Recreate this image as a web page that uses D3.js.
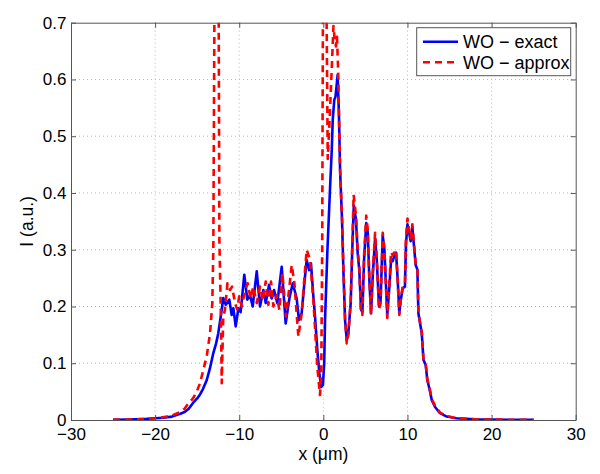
<!DOCTYPE html>
<html>
<head>
<meta charset="utf-8">
<script src="https://cdn.jsdelivr.net/npm/d3@7/dist/d3.min.js"></script>
<style>
  html, body { margin: 0; padding: 0; background: #fff; }
  svg { display: block; }
  text { font-family: "Liberation Sans", Arial, Helvetica, sans-serif; }
</style>
</head>
<body>
<svg id="chart" width="600" height="474"></svg>
<script>
// ---------- data ----------
const xTicks = [-30, -20, -10, 0, 10, 20, 30];
const yTicks = [0, 0.1, 0.2, 0.3, 0.4, 0.5, 0.6, 0.7];
const seriesNames = ["WO \u2212 exact", "WO \u2212 approx"];

const xExact = [-25, -23, -21, -20, -19, -18, -17, -16.5, -16, -15.5, -15, -14.66, -14.3, -13.87, -13.5, -13.08, -12.75, -12.49, -12.2, -11.9, -11.6, -11.18, -10.9, -10.7, -10.42, -10.1, -9.83, -9.4, -9.04, -8.72, -8.4, -7.92, -7.53, -7.13, -6.85, -6.46, -6.14, -5.86, -5.47, -4.95, -4.48, -4.04, -3.64, -3.17, -2.9, -2.58, -2.2, -1.98, -1.7, -1.47, -1.2, -0.99, -0.7, -0.47, -0.25, -0.05, 0.1, 0.2, 0.47, 0.8, 1.0, 1.12, 1.3, 1.45, 1.7, 1.85, 1.99, 2.22, 2.38, 2.58, 2.78, 2.97, 3.25, 3.45, 3.62, 3.88, 4.08, 4.27, 4.48, 4.64, 4.84, 5.1, 5.28, 5.47, 5.67, 5.87, 6.15, 6.35, 6.62, 6.8, 7.06, 7.26, 7.6, 7.85, 8.05, 8.25, 8.44, 8.64, 8.84, 9.03, 9.19, 9.43, 9.7, 9.82, 10.0, 10.2, 10.38, 10.58, 10.78, 10.98, 11.18, 11.3, 11.5, 11.7, 11.9, 12.17, 12.36, 12.6, 12.89, 13.28, 13.87, 14.67, 15.8, 17, 18.5, 20, 22, 25];
const yExact = [0.0005, 0.001, 0.002, 0.003, 0.004, 0.006, 0.011, 0.014, 0.02, 0.03, 0.038, 0.045, 0.055, 0.07, 0.09, 0.118, 0.135, 0.153, 0.182, 0.215, 0.203, 0.212, 0.185, 0.197, 0.165, 0.197, 0.19, 0.256, 0.212, 0.22, 0.2, 0.262, 0.2, 0.229, 0.206, 0.238, 0.214, 0.229, 0.206, 0.27, 0.17, 0.214, 0.241, 0.214, 0.176, 0.188, 0.25, 0.282, 0.264, 0.276, 0.22, 0.182, 0.12, 0.082, 0.058, 0.062, 0.1, 0.176, 0.294, 0.41, 0.476, 0.53, 0.564, 0.57, 0.608, 0.54, 0.44, 0.353, 0.265, 0.176, 0.141, 0.153, 0.206, 0.306, 0.378, 0.353, 0.294, 0.265, 0.195, 0.19, 0.282, 0.347, 0.33, 0.247, 0.188, 0.253, 0.32, 0.282, 0.2, 0.21, 0.325, 0.3, 0.185, 0.235, 0.282, 0.28, 0.29, 0.295, 0.247, 0.188, 0.21, 0.232, 0.235, 0.31, 0.345, 0.33, 0.315, 0.34, 0.306, 0.273, 0.265, 0.188, 0.17, 0.153, 0.106, 0.097, 0.07, 0.056, 0.035, 0.023, 0.012, 0.006, 0.003, 0.002, 0.001, 0.0008, 0.0005, 0.0003];

const xApprox = [-25, -23, -21, -20, -19, -18, -17, -16.5, -16, -15.5, -15.05, -14.66, -14.27, -13.87, -13.47, -13.2, -13.08, -12.95, -12.7, -12.45, -12.36, -12.2, -12.08, -11.9, -11.7, -11.4, -11.1, -10.85, -10.5, -10.25, -10.0, -9.7, -9.35, -9.0, -8.65, -8.33, -7.92, -7.53, -7.2, -6.85, -6.54, -6.22, -5.94, -5.55, -5.23, -4.87, -4.44, -4.16, -3.76, -3.44, -2.97, -2.58, -2.2, -1.98, -1.58, -1.19, -0.72, -0.4, -0.25, -0.14, -0.05, 0.1, 0.3, 0.42, 0.52, 0.75, 1.0, 1.2, 1.35, 1.5, 1.62, 1.75, 1.88, 1.99, 2.22, 2.38, 2.58, 2.78, 2.97, 3.25, 3.45, 3.6, 3.88, 4.08, 4.27, 4.48, 4.64, 4.84, 5.1, 5.28, 5.47, 5.67, 5.87, 6.15, 6.35, 6.62, 6.8, 7.06, 7.26, 7.6, 7.85, 8.05, 8.25, 8.44, 8.64, 8.84, 9.03, 9.19, 9.43, 9.7, 9.82, 10.0, 10.2, 10.38, 10.58, 10.78, 10.98, 11.18, 11.3, 11.5, 11.7, 11.9, 12.17, 12.36, 12.6, 12.89, 13.28, 13.87, 14.67, 15.8, 17, 18.5, 20, 22, 25];
const yApprox = [0.0005, 0.001, 0.002, 0.003, 0.005, 0.008, 0.014, 0.02, 0.03, 0.038, 0.05, 0.065, 0.088, 0.112, 0.153, 0.206, 0.3, 0.72, 1.0, 0.75, 0.317, 0.2, 0.065, 0.182, 0.194, 0.241, 0.229, 0.235, 0.206, 0.195, 0.218, 0.2, 0.225, 0.241, 0.214, 0.235, 0.206, 0.235, 0.21, 0.244, 0.203, 0.244, 0.2, 0.22, 0.194, 0.259, 0.182, 0.218, 0.273, 0.241, 0.147, 0.188, 0.26, 0.3, 0.282, 0.212, 0.094, 0.044, 0.08, 0.3, 0.72, 0.9, 0.85, 0.65, 0.46, 0.53, 0.62, 0.694, 0.67, 0.658, 0.675, 0.62, 0.52, 0.44, 0.355, 0.27, 0.18, 0.135, 0.15, 0.21, 0.315, 0.397, 0.36, 0.3, 0.27, 0.19, 0.185, 0.29, 0.36, 0.335, 0.25, 0.185, 0.26, 0.33, 0.285, 0.195, 0.205, 0.33, 0.3, 0.18, 0.24, 0.296, 0.29, 0.295, 0.3, 0.245, 0.185, 0.21, 0.235, 0.24, 0.32, 0.355, 0.335, 0.32, 0.345, 0.31, 0.275, 0.265, 0.19, 0.172, 0.155, 0.108, 0.098, 0.072, 0.058, 0.037, 0.025, 0.013, 0.007, 0.003, 0.002, 0.001, 0.0008, 0.0005, 0.0003];

// ---------- layout ----------
const M = { left: 71, right: 575.7, top: 22.7, bottom: 420 };
const svg = d3.select("#chart");

const x = d3.scaleLinear().domain([-30, 30]).range([M.left, M.right]);
const y = d3.scaleLinear().domain([0, 0.7]).range([M.bottom, M.top]);

const axisColor = "#555";
const tickFont = 17;
const labelFont = 17.5;
const legendFont = 18;

// grid
const grid = svg.append("g");
grid.selectAll("line.gx").data(xTicks.slice(1, -1)).join("line")
  .attr("x1", d => x(d)).attr("x2", d => x(d))
  .attr("y1", M.top).attr("y2", M.bottom)
  .attr("stroke", "#b8b8b8").attr("stroke-width", 1).attr("stroke-dasharray", "1,3");
grid.selectAll("line.gy").data(yTicks.slice(1, -1)).join("line")
  .attr("y1", d => y(d)).attr("y2", d => y(d))
  .attr("x1", M.left).attr("x2", M.right)
  .attr("stroke", "#b8b8b8").attr("stroke-width", 1).attr("stroke-dasharray", "1,3");

// clip
svg.append("defs").append("clipPath").attr("id", "clip")
  .append("rect").attr("x", M.left).attr("y", M.top).attr("width", M.right - M.left).attr("height", M.bottom - M.top);

const line = d3.line().x(d => x(d[0])).y(d => y(d[1]));
const exactPts = xExact.map((v, i) => [v, yExact[i]]);
const approxPts = xApprox.map((v, i) => [v, yApprox[i]]);

const plot = svg.append("g").attr("clip-path", "url(#clip)");
plot.append("path").datum(exactPts).attr("d", line)
  .attr("fill", "none").attr("stroke", "#0000ff").attr("stroke-width", 2.6)
  .attr("stroke-linejoin", "round");
plot.append("path").datum(approxPts).attr("d", line)
  .attr("fill", "none").attr("stroke", "#ff0000").attr("stroke-width", 2.6)
  .attr("stroke-dasharray", "7,5").attr("stroke-linejoin", "round");

// axes (MATLAB style box with inward ticks on all sides)
const fmtX = d => d < 0 ? "\u2212" + Math.abs(d) : String(d);
const xAxisB = d3.axisBottom(x).tickValues(xTicks).tickSizeInner(-5).tickSizeOuter(0).tickPadding(8).tickFormat(fmtX);
const xAxisT = d3.axisTop(x).tickValues(xTicks).tickSizeInner(-5).tickSizeOuter(0).tickFormat("");
const yAxisL = d3.axisLeft(y).tickValues(yTicks).tickSizeInner(-5).tickSizeOuter(0).tickPadding(4.5).tickFormat(d => d === 0 ? "0" : d3.format(".1f")(d));
const yAxisR = d3.axisRight(y).tickValues(yTicks).tickSizeInner(-5).tickSizeOuter(0).tickFormat("");

function styleAxis(g) {
  g.select(".domain").attr("stroke", axisColor).attr("stroke-width", 1);
  g.selectAll(".tick line").attr("stroke", axisColor);
  g.selectAll(".tick text").attr("fill", "#000").attr("font-size", tickFont)
    .attr("font-family", "'Liberation Sans', Arial, sans-serif");
}
svg.append("g").attr("transform", `translate(0,${M.bottom})`).call(xAxisB).call(styleAxis);
svg.append("g").attr("transform", `translate(0,${M.top})`).call(xAxisT).call(styleAxis);
svg.append("g").attr("transform", `translate(${M.left},0)`).call(yAxisL).call(styleAxis);
svg.append("g").attr("transform", `translate(${M.right},0)`).call(yAxisR).call(styleAxis);

// axis labels
svg.append("text").attr("x", (M.left + M.right) / 2).attr("y", 459.5)
  .attr("text-anchor", "middle").attr("font-size", labelFont).text("x (\u03bcm)");
svg.append("text").attr("transform", `translate(33,${(M.top + M.bottom) / 2}) rotate(-90)`)
  .attr("text-anchor", "middle").attr("font-size", labelFont).text("I (a.u.)");

// legend
const lg = svg.append("g");
lg.append("rect").attr("x", 416.7).attr("y", 27.7).attr("width", 154).attr("height", 48)
  .attr("fill", "#fff").attr("stroke", axisColor).attr("stroke-width", 1);
const legendRows = [
  { name: seriesNames[0], color: "#0000ff", dash: null, cy: 41.7 },
  { name: seriesNames[1], color: "#ff0000", dash: "7,5", cy: 62.3 }
];
legendRows.forEach(r => {
  lg.append("line").attr("x1", 423).attr("x2", 458).attr("y1", r.cy).attr("y2", r.cy)
    .attr("stroke", r.color).attr("stroke-width", 2.6)
    .attr("stroke-dasharray", r.dash);
  lg.append("text").attr("x", 463).attr("y", r.cy).attr("dy", "0.35em")
    .attr("font-size", legendFont).text(r.name);
});
</script>
</body>
</html>
